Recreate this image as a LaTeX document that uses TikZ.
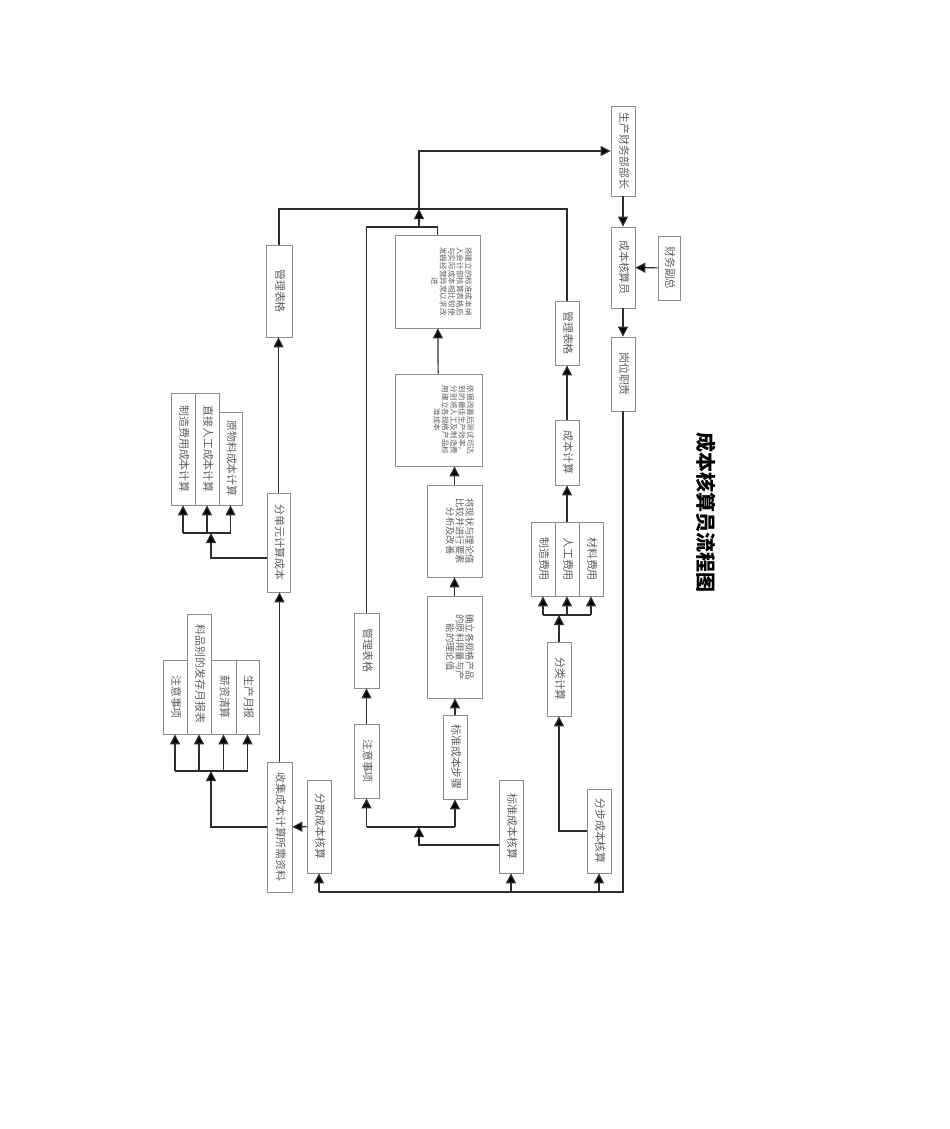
\documentclass[tikz,border=0pt]{standalone}
\usepackage{fontspec}
\usepackage{graphicx}
\usepackage{tikz}
\usetikzlibrary{arrows.meta}
\newfontfamily\cjk{Noto Sans CJK SC}
\definecolor{linegray}{RGB}{45,45,45}
\definecolor{boxgray}{RGB}{140,140,140}
\definecolor{txtgray}{RGB}{95,95,95}
\tikzset{box/.style={draw=boxgray,line width=0.6pt,fill=white,inner sep=0pt,text=txtgray,
    font=\cjk\fontsize{8.2}{9}\selectfont},
  smalltxt/.style={font=\cjk\fontsize{5.7}{6.3}\selectfont},
  midtxt/.style={font=\cjk\fontsize{7}{7.3}\selectfont},
  wire/.style={draw=linegray,line width=0.9pt},
  arr/.style={wire,-{Triangle[width=7.5pt,length=7.5pt,fill=black]}}}
\newcommand{\vt}[1]{\rotatebox{-90}{\begin{tabular}{@{}c@{}}#1\end{tabular}}}
\newcommand{\vbig}[3]{\rotatebox{-90}{\parbox[c][#1][t]{#2}{\centering\vspace*{6pt}#3}}}

\begin{document}
\begin{tikzpicture}[x=0.75pt,y=0.75pt,yscale=-1,xscale=1]
\useasboundingbox (0,0) rectangle (950,1129);

% Title
\node[font=\cjk\bfseries\fontsize{15}{15}\selectfont] (title) at (706,512) {\rotatebox{-90}{成本核算员流程图}};

% Top column
\node[box,minimum width=18pt,minimum height=67.5pt] (boss) at (623,151) {\vt{生产财务部部长}};
\node[box,minimum width=18pt,minimum height=60.75pt] (acct) at (623,267.5) {\vt{成本核算员}};
\node[box,minimum width=16.5pt,minimum height=48pt] (vp) at (669,268) {\vt{财务副总}};
\node[box,minimum width=18pt,minimum height=55.5pt] (duty) at (623,374) {\vt{岗位职责}};

% Right branch
\node[box,minimum width=18pt,minimum height=48pt] (tblR) at (567,333) {\vt{管理表格}};
\node[box,minimum width=18pt,minimum height=48.75pt] (calcR) at (567,452.5) {\vt{成本计算}};
\node[box,minimum width=18pt,minimum height=55.5pt] (mfgR) at (543,559) {\vt{制造费用}};
\node[box,minimum width=18pt,minimum height=55.5pt] (labR) at (567,559) {\vt{人工费用}};
\node[box,minimum width=18pt,minimum height=55.5pt] (matR) at (591,559) {\vt{材料费用}};
\node[box,minimum width=18pt,minimum height=55.5pt] (cls) at (559,679) {\vt{分类计算}};
\node[box,minimum width=18pt,minimum height=63pt] (stepcost) at (599,831) {\vt{分步成本核算}};

% Middle branch
\node[box,minimum width=18pt,minimum height=69.75pt] (std) at (511,826.5) {\vt{标准成本核算}};
\node[box,minimum width=18pt,minimum height=63pt] (stdstep) at (455,757) {\vt{标准成本步骤}};
\node[box,minimum width=18.75pt,minimum height=55.5pt] (noteM) at (366.5,761) {\vt{注意事项}};
\node[box,minimum width=18.75pt,minimum height=56.25pt] (tblM) at (366.5,650.5) {\vt{管理表格}};
\node[box,midtxt] (theo) at (454.5,647) {\vbig{41.25pt}{76.5pt}{确立各规格产品\\的原料用量与产\\能的理论值}};
\node[box,midtxt] (cmp) at (454.5,531) {\vbig{41.25pt}{69pt}{将现状与理论值\\比较并进行要素\\分析及改善}};
\node[box,smalltxt] (impr) at (438.5,420) {\vbig{65.25pt}{69pt}{依据改善后测试可达\\到的最佳生产效率，\\分别将人工及制造费\\用建立各规格产品标\\准成本}};
\node[box,smalltxt] (incl) at (437.5,281.5) {\vbig{63.75pt}{69.75pt}{将建立的标准成本纳\\入会计部核算表格后\\与实际成本相比较使\\发掘经营异常以求改\\进}};

% Left branch
\node[box,minimum width=19.5pt,minimum height=69pt] (tblL) at (279,291) {\vt{管理表格}};
\node[box,minimum width=17.25pt,minimum height=74.25pt] (unit) at (278.5,542.5) {\vt{分单元计算成本}};
\node[box,minimum width=18pt,minimum height=84pt] (mfgL) at (183,449) {\vt{制造费用成本计算}};
\node[box,minimum width=18pt,minimum height=84pt] (labL) at (207,449) {\vt{直接人工成本计算}};
\node[box,minimum width=17.25pt,minimum height=69.75pt] (matL) at (230.5,458.5) {\vt{原物料成本计算}};
\node[box,minimum width=18.75pt,minimum height=97.5pt] (collect) at (279.5,827) {\vt{收集成本计算所需资料}};
\node[box,minimum width=18pt,minimum height=69.75pt] (disp) at (319,826.5) {\vt{分散成本核算}};
\node[box,minimum width=18pt,minimum height=55.5pt] (noteL) at (175,697) {\vt{注意事项}};
\node[box,minimum width=18pt,minimum height=90pt] (itemL) at (199,674) {\vt{料品别的发存月报表}};
\node[box,minimum width=18.75pt,minimum height=55.5pt] (payL) at (223.5,697) {\vt{薪资清算}};
\node[box,minimum width=17.25pt,minimum height=55.5pt] (prodL) at (247.5,697) {\vt{生产月报}};

% Junctions
\coordinate (bot) at (620,892);
\coordinate (jTop) at (419,209);
\coordinate (jMid) at (419,227);
\coordinate (jStd) at (419,827);
\coordinate (cStd) at (419,845);
\coordinate (jCol) at (211,771);
\coordinate (jUnit) at (211,533);
\coordinate (cUnit) at (211,558);
\coordinate (jCls) at (559,615);

% Top column links
\draw[arr] (boss) -- (acct);
\draw[arr] (vp) -- (acct);
\draw[arr] (acct) -- (duty);
\draw[wire] (duty.south) -- (duty.south |- bot) -- (disp.south |- bot);
\foreach \n in {disp,std,stepcost}
  \draw[arr] (\n.south |- bot) -- (\n.south);

% Left links
\draw[arr] (disp) -- (collect);
\draw[arr] (collect.west) -| (jCol);
\draw[wire] (noteL.south |- jCol) -- (prodL.south |- jCol);
\foreach \n in {noteL,itemL,payL,prodL}
  \draw[arr] (\n.south |- jCol) -- (\n.south);
\draw[arr] (collect.north) -- (collect.north |- unit.south);
\draw[arr] (cUnit -| unit.west) -- (cUnit) -- (jUnit);
\draw[wire] (mfgL.south |- jUnit) -- (matL.south |- jUnit);
\foreach \n in {mfgL,labL,matL}
  \draw[arr] (\n.south |- jUnit) -- (\n.south);
\draw[arr] (unit.north) -- (unit.north |- tblL.south);
\draw[wire] (tblL.north) |- (jTop) -| (tblR.north);

% Middle links
\draw[arr] (std.west |- cStd) -| (jStd);
\draw[wire] (noteM.south |- jStd) -- (stdstep.south |- jStd);
\foreach \n in {noteM,stdstep}
  \draw[arr] (\n.south |- jStd) -- (\n.south);
\draw[arr] (noteM) -- (tblM);
\draw[arr] (stdstep.north) -- (stdstep.north |- theo.south);
\draw[arr] (theo) -- (cmp);
\draw[arr] (cmp.north) -- (cmp.north |- impr.south);
\draw[arr] (impr) -- (incl);
\draw[wire] (tblM.north) |- (jMid);
\draw[wire] (incl.north) |- (jMid);
\draw[arr] (jMid) -- (jTop);
\draw[arr] (jTop) |- (boss.west);

% Right links
\draw[arr] (stepcost.west) -| (cls.south);
\draw[arr] (cls.north) -- (jCls);
\draw[wire] (mfgR.south |- jCls) -- (matR.south |- jCls);
\foreach \n in {mfgR,labR,matR}
  \draw[arr] (\n.south |- jCls) -- (\n.south);
\draw[arr] (labR) -- (calcR);
\draw[arr] (calcR) -- (tblR);

\end{tikzpicture}
\end{document}
